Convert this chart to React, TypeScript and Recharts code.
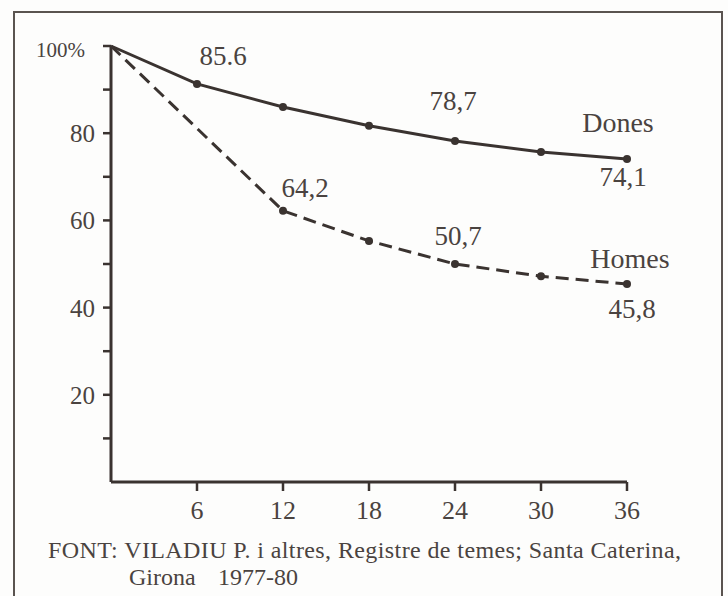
import { LineChart, Line, XAxis, YAxis } from 'recharts'

// months since diagnosis
const months = [0, 6, 12, 18, 24, 30, 36]
// survival %
const dones = [100, 91.3, 86.0, 81.7, 78.2, 75.7, 74.1]
const homes = [100, null, 62.2, 55.3, 50.0, 47.2, 45.4]
// printed value labels (as in the original figure)
const donesLabels = ['', '85.6', '', '', '78,7', '', '74,1']
const homesLabels = ['', '', '64,2', '', '50,7', '', '45,8']
const xTicks = [6, 12, 18, 24, 30, 36]
const yTicks = [10, 20, 30, 40, 50, 60, 70, 80, 90, 100]
const yTickLabels: Record<number, string> = { 20: '20', 40: '40', 60: '60', 80: '80', 100: '100%' }
const caption1 = 'FONT:  VILADIU P. i altres, Registre de temes; Santa Caterina,'
const caption2a = 'Girona'
const caption2b = '1977-80'

const data = months.map((m, i) => ({ month: m, dones: dones[i], homes: homes[i] }))

const ink = '#3a3330'
const txt = '#4a4340'
const font = '"Liberation Serif", "DejaVu Serif", serif'

// label offsets from the point, px
const donesLabelPos: Record<number, [number, number]> = { 1: [26, -19], 4: [-2, -31], 6: [-4, 27] }
const homesLabelPos: Record<number, [number, number]> = { 2: [22, -14], 4: [3, -19], 6: [5, 34] }
const namePos = { Dones: [-9, -27], Homes: [3, -16] }

const YTick = (p: any) => {
  const v = p.payload.value
  const s = yTickLabels[v]
  if (!s) return <g />
  const top = v === 100
  return (
    <text x={p.x} y={p.y} dx={top ? -16 : -6} dy={top ? 11 : 9} textAnchor="end" fontSize={top ? 21 : 25} fill={txt} fontFamily={font}>
      {s}
    </text>
  )
}

const XTick = (p: any) => (
  <text x={p.x} y={519} textAnchor="middle" fontSize={26} fill={txt} fontFamily={font}>
    {p.payload.value}
  </text>
)

const Marker = (p: any) => {
  if (p.index === 0 || p.cy == null || p.value == null) return <g key={p.key} />
  return <circle key={p.key} cx={p.cx} cy={p.cy} r={4} fill={ink} />
}

const makeLabel = (texts: string[], pos: Record<number, [number, number]>, name: string, np: number[]) => (p: any) => {
  const i = p.index
  const t = texts[i]
  const off = pos[i]
  return (
    <g>
      {t && off && (
        <text x={p.x + off[0]} y={p.y + off[1]} textAnchor="middle" fontSize={27} fill={txt} fontFamily={font}>
          {t}
        </text>
      )}
      {i === months.length - 1 && (
        <text x={p.x + np[0]} y={p.y + np[1]} textAnchor="middle" fontSize={28} fill={txt} fontFamily={font}>
          {name}
        </text>
      )}
    </g>
  )
}

export default function App() {
  return (
    <div style={{ position: 'fixed', left: 0, top: 0, width: 728, height: 596, overflow: 'hidden', background: '#fdfdfc' }}>
      <div style={{ position: 'absolute', left: 13, top: 11, width: 710, height: 640, border: `2px solid #5a5450`, boxSizing: 'border-box' }} />
      <div style={{ position: 'absolute', left: 0, top: 0 }}>
        <LineChart width={728} height={596} data={data} margin={{ top: 46, right: 101, bottom: 74, left: 11 }}>
          <XAxis
            dataKey="month"
            type="number"
            domain={[0, 36]}
            ticks={xTicks}
            interval={0}
            height={40}
            tickSize={9}
            axisLine={{ stroke: ink, strokeWidth: 3 }}
            tickLine={{ stroke: ink, strokeWidth: 2.5 }}
            tick={<XTick />}
          />
          <YAxis
            type="number"
            domain={[0, 100]}
            ticks={yTicks}
            interval={0}
            width={100}
            tickSize={8}
            axisLine={{ stroke: ink, strokeWidth: 3 }}
            tickLine={{ stroke: ink, strokeWidth: 2.5 }}
            tick={<YTick />}
          />
          <Line
            dataKey="dones"
            stroke={ink}
            strokeWidth={3}
            dot={Marker}
            activeDot={false}
            label={makeLabel(donesLabels, donesLabelPos, 'Dones', namePos.Dones)}
            isAnimationActive={false}
          />
          <Line
            dataKey="homes"
            stroke={ink}
            strokeWidth={3}
            strokeDasharray="13 7"
            connectNulls
            dot={Marker}
            activeDot={false}
            label={makeLabel(homesLabels, homesLabelPos, 'Homes', namePos.Homes)}
            isAnimationActive={false}
          />
        </LineChart>
      </div>
      <svg width={728} height={596} style={{ position: 'absolute', left: 0, top: 0, pointerEvents: 'none' }}>
        <text x={48} y={558} fontSize={24} fill={txt} fontFamily={font} textLength={633} lengthAdjust="spacing">
          {caption1}
        </text>
        <text x={129} y={585} fontSize={24} fill={txt} fontFamily={font}>
          {caption2a}
        </text>
        <text x={218} y={585} fontSize={24} fill={txt} fontFamily={font}>
          {caption2b}
        </text>
      </svg>
    </div>
  )
}
